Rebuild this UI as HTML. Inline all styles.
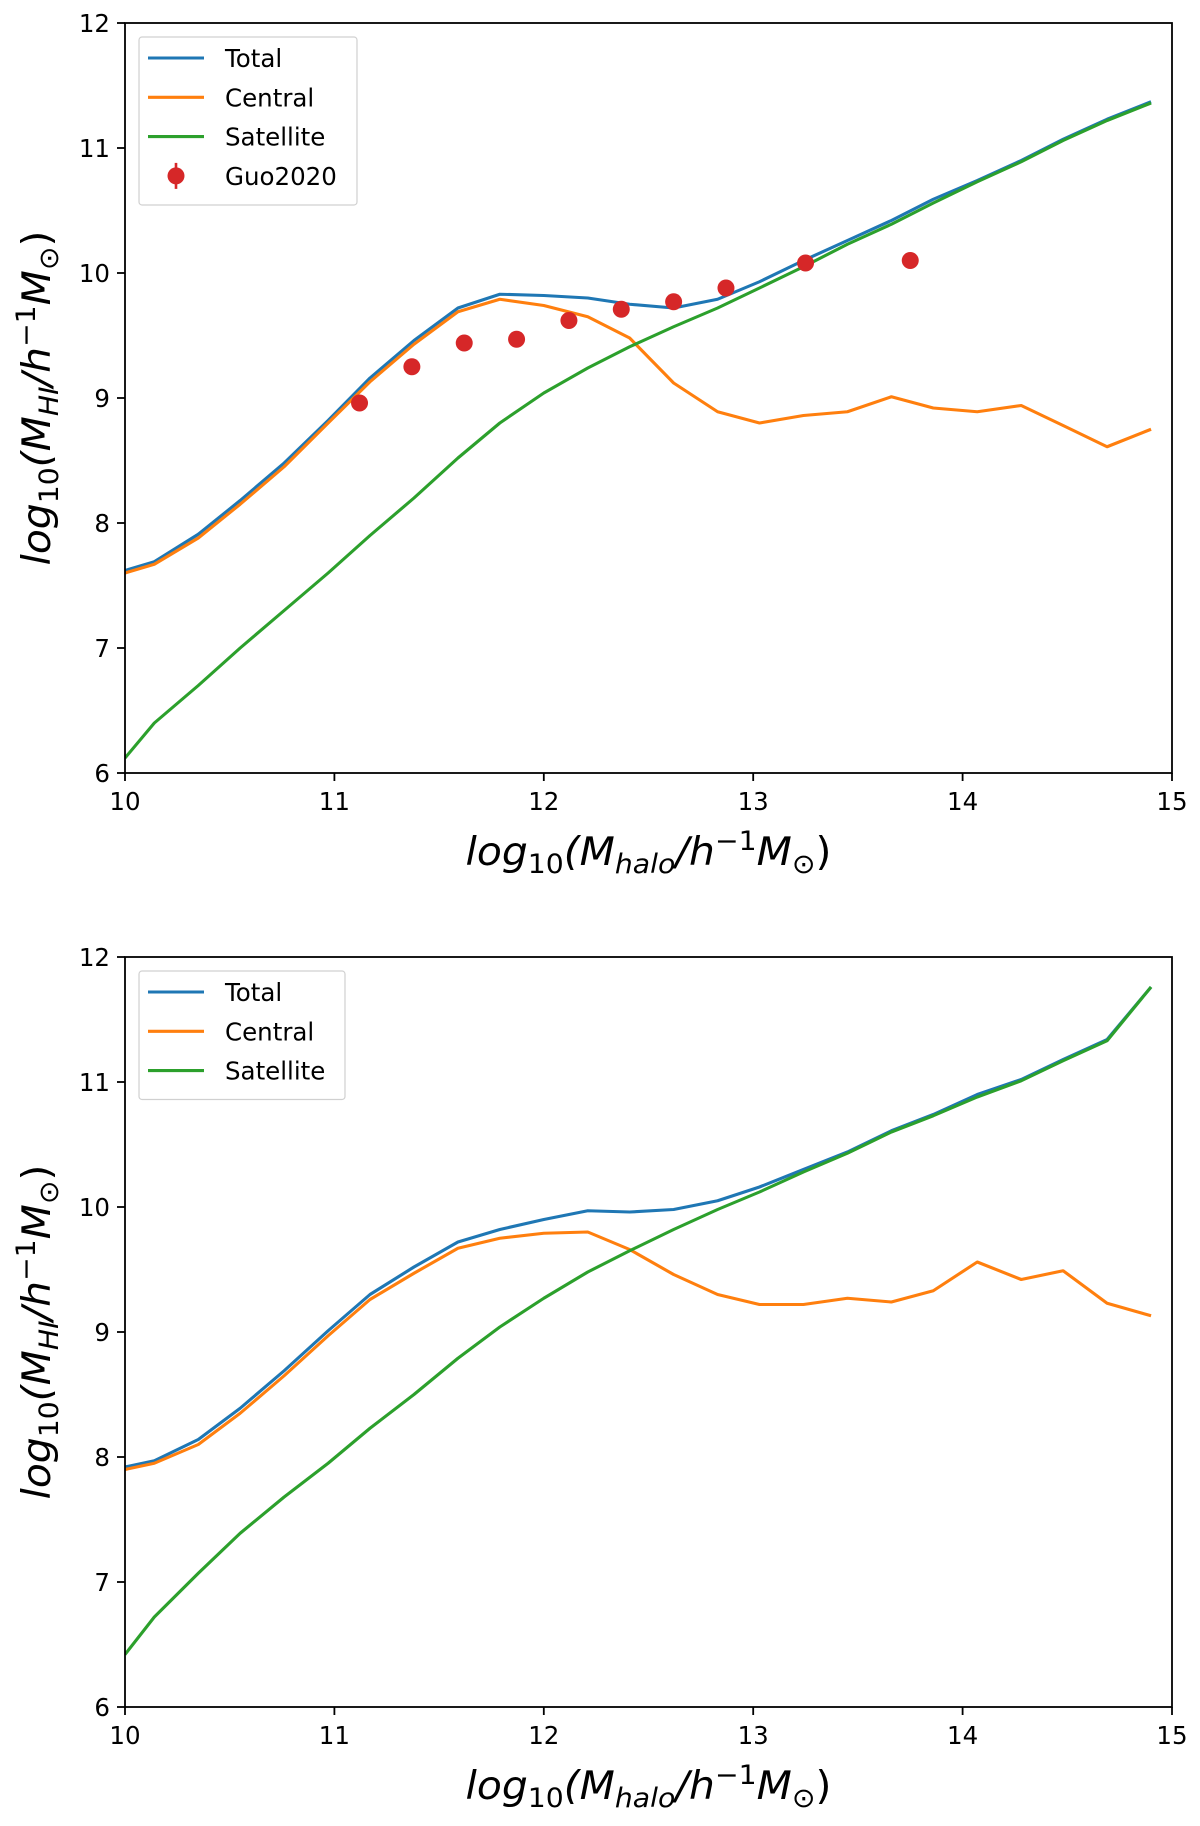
<!DOCTYPE html>
<html><head><meta charset="utf-8"><style>
html,body{margin:0;padding:0;background:#fff;}
svg{display:block;font-family:"DejaVu Sans","Liberation Sans",sans-serif;}
</style></head><body>
<svg id="fig" width="1200" height="1826" viewBox="0 0 1200 1826" xmlns="http://www.w3.org/2000/svg"></svg>
<script>
const xs = [10.0,10.14,10.35,10.55,10.76,10.97,11.17,11.38,11.59,11.79,12.0,12.21,12.41,12.62,12.83,13.03,13.24,13.45,13.66,13.86,14.07,14.28,14.48,14.69,14.9];
const topTotal = [7.62,7.69,7.91,8.18,8.48,8.82,9.16,9.46,9.72,9.83,9.82,9.80,9.75,9.72,9.79,9.93,10.1,10.26,10.42,10.59,10.74,10.9,11.07,11.23,11.37];
const topCentral = [7.6,7.67,7.88,8.15,8.45,8.8,9.13,9.43,9.69,9.79,9.74,9.65,9.48,9.12,8.89,8.8,8.86,8.89,9.01,8.92,8.89,8.94,8.78,8.61,8.75];
const topSatellite = [6.12,6.4,6.7,7.0,7.3,7.6,7.9,8.2,8.52,8.8,9.04,9.24,9.41,9.57,9.72,9.88,10.05,10.23,10.39,10.56,10.73,10.89,11.06,11.22,11.36];
const guoX = [11.12,11.37,11.62,11.87,12.12,12.37,12.62,12.87,13.25,13.75];
const guoY = [8.96,9.25,9.44,9.47,9.62,9.71,9.77,9.88,10.08,10.1];
const botTotal = [7.92,7.97,8.14,8.39,8.69,9.01,9.3,9.52,9.72,9.82,9.9,9.97,9.96,9.98,10.05,10.16,10.3,10.44,10.61,10.74,10.9,11.02,11.18,11.34,11.76];
const botCentral = [7.9,7.95,8.1,8.35,8.65,8.97,9.26,9.47,9.67,9.75,9.79,9.8,9.66,9.46,9.3,9.22,9.22,9.27,9.24,9.33,9.56,9.42,9.49,9.23,9.13];
const botSatellite = [6.42,6.72,7.07,7.39,7.68,7.95,8.23,8.5,8.79,9.04,9.27,9.48,9.65,9.82,9.98,10.12,10.28,10.43,10.6,10.73,10.88,11.01,11.17,11.33,11.76];
const xTicks = [10,11,12,13,14,15];
const yTicks = [6,7,8,9,10,11,12];

const NS="http://www.w3.org/2000/svg";
const svg=document.getElementById('fig');
function mk(tag,attrs,parent){const e=document.createElementNS(NS,tag);for(const k in attrs)e.setAttribute(k,attrs[k]);(parent||svg).appendChild(e);return e;}
const C={total:'#1f77b4',central:'#ff7f0e',sat:'#2ca02c',guo:'#d62728'};

function panel(top, name, series, guo){
  const L=125,R=1172,T=top,B=top+750;
  const sx=v=>L+(v-10)/5*(R-L);
  const sy=v=>B-(v-6)/6*(B-T);
  const g=mk('g',{});
  
  
  const defs=mk('clipPath',{id:name+'-clip'},g);
  mk('rect',{x:L,y:T,width:R-L,height:B-T},defs);
  const plot=mk('g',{'clip-path':'url(#'+name+'-clip)'},g);
  for(const s of series){
    const p=mk('polyline',{points:xs.map((x,i)=>sx(x)+','+sy(s.v[i])).join(' '),fill:'none',stroke:s.c,'stroke-width':3.1,'stroke-linejoin':'round'},plot);
    
    
  }
  if(guo){
    guoX.forEach((x,i)=>{
      const c=mk('circle',{cx:sx(x),cy:sy(guoY[i]),r:8.5,fill:C.guo},plot);
      
      
    });
  }
  const frame=mk('rect',{x:L,y:T,width:R-L,height:B-T,fill:'none',stroke:'#000','stroke-width':1.8},g);
  
  
  xTicks.forEach(t=>{
    mk('line',{x1:sx(t),x2:sx(t),y1:B,y2:B+8,stroke:'#000','stroke-width':1.8},g);
    const tx=mk('text',{x:sx(t),y:B+37,'font-size':24.5,'text-anchor':'middle'},g);
    tx.textContent=t;
    
    
  });
  yTicks.forEach(t=>{
    mk('line',{x1:L-8,x2:L,y1:sy(t),y2:sy(t),stroke:'#000','stroke-width':1.8},g);
    const ty=mk('text',{x:L-15,y:sy(t)+9,'font-size':24.5,'text-anchor':'end'},g);
    ty.textContent=t;
    
    
  });
  const xl=mk('text',{x:(L+R)/2,y:B+92,'font-size':39,'font-style':'italic','text-anchor':'middle',textLength:366,lengthAdjust:'spacingAndGlyphs'},g);
  xl.innerHTML='log<tspan font-size="27" dy="8" font-style="normal">10</tspan><tspan dy="-8">(M</tspan><tspan font-size="27" dy="8">halo</tspan><tspan dy="-8">/h</tspan><tspan font-size="27" dy="-15" font-style="normal">−1</tspan><tspan dy="15">M</tspan><tspan font-size="27" dy="8" font-style="normal">⊙</tspan><tspan dy="-8" font-style="normal">)</tspan>';
  
  
  const yl=mk('text',{x:0,y:0,'font-size':39,'font-style':'italic','text-anchor':'middle',textLength:335,lengthAdjust:'spacingAndGlyphs',transform:'translate(50,'+((T+B)/2)+') rotate(-90)'},g);
  yl.innerHTML='log<tspan font-size="27" dy="8" font-style="normal">10</tspan><tspan dy="-8">(M</tspan><tspan font-size="27" dy="8">HI</tspan><tspan dy="-8">/h</tspan><tspan font-size="27" dy="-15" font-style="normal">−1</tspan><tspan dy="15">M</tspan><tspan font-size="27" dy="8" font-style="normal">⊙</tspan><tspan dy="-8" font-style="normal">)</tspan>';
  
  
  const entries=series.map(s=>({n:s.label,c:s.c,t:'line'}));
  if(guo) entries.push({n:'Guo2020',c:C.guo,t:'pt'});
  const lg=mk('g',{},g);
  
  
  const lh=entries.length*39.5+10;
  mk('rect',{x:139,y:T+14,width:guo?218:206,height:lh,fill:'#fff',stroke:'#ccc','stroke-width':1.2,rx:3,opacity:0.9},lg);
  entries.forEach((e,i)=>{
    const y=T+35+i*39.3;
    const eg=mk('g',{},lg);
    
    
    if(e.t==='line') mk('line',{x1:148,x2:204,y1:y,y2:y,stroke:e.c,'stroke-width':3.1},eg);
    else { mk('line',{x1:176,x2:176,y1:y-13,y2:y+13,stroke:e.c,'stroke-width':2.6},eg); mk('circle',{cx:176,cy:y,r:8.5,fill:e.c},eg); }
    const t=mk('text',{x:225,y:y+9,'font-size':24.5},eg);
    t.textContent=e.n;
  });
}
panel(23,'top-panel',[{n:'total',label:'Total',c:C.total,v:topTotal},{n:'central',label:'Central',c:C.central,v:topCentral},{n:'satellite',label:'Satellite',c:C.sat,v:topSatellite}],true);
panel(957,'bottom-panel',[{n:'total',label:'Total',c:C.total,v:botTotal},{n:'central',label:'Central',c:C.central,v:botCentral},{n:'satellite',label:'Satellite',c:C.sat,v:botSatellite}],false);
</script>
</body></html>
